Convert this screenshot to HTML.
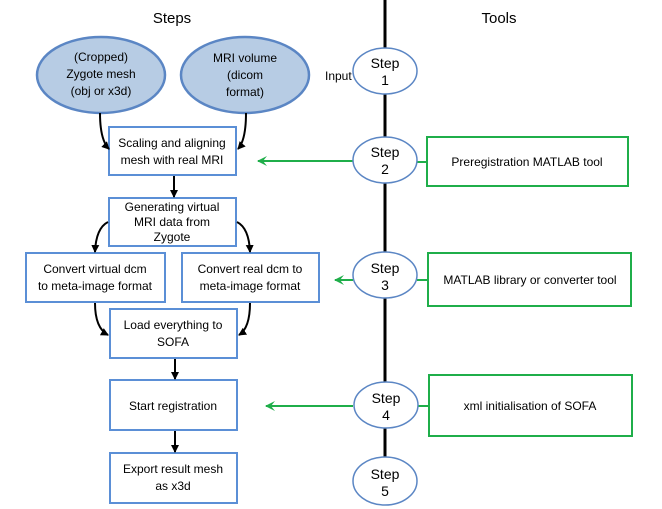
<!DOCTYPE html>
<html><head><style>body{margin:0;background:#fff}svg{display:block}text{font-family:"Liberation Sans",sans-serif;font-size:12px;fill:#000}</style></head>
<body>
<svg width="662" height="509" viewBox="0 0 662 509">
<defs>
<marker id="ab" markerWidth="8" markerHeight="8" refX="7" refY="4" orient="auto" markerUnits="userSpaceOnUse"><path d="M0,0 L8,4 L0,8 z" fill="#000"/></marker>
<marker id="ag" markerWidth="10" markerHeight="10" refX="9" refY="5" orient="auto" markerUnits="userSpaceOnUse"><path d="M0,0 L10,5 L0,10 L4,5 z" fill="#1fae4a"/></marker>
</defs>
<text x="172" y="23" text-anchor="middle" style="font-size:15px">Steps</text>
<text x="499" y="23" text-anchor="middle" style="font-size:15px">Tools</text>
<line x1="385" y1="0" x2="385" y2="460" stroke="#000" stroke-width="3"/>
<g fill="#b7cce4" stroke="#5b86c4" stroke-width="2.5">
<ellipse cx="101" cy="75" rx="64" ry="38"/>
<ellipse cx="245" cy="75" rx="64" ry="38"/>
</g>
<g text-anchor="middle">
<text x="101" y="61">(Cropped)</text><text x="101" y="78">Zygote mesh</text><text x="101" y="95">(obj or x3d)</text>
<text x="245" y="62">MRI volume</text><text x="245" y="79">(dicom</text><text x="245" y="96">format)</text>
</g>
<g fill="#fff" stroke="#5b8fd6" stroke-width="2">
<rect x="109" y="127" width="127" height="48"/>
<rect x="109" y="198" width="127" height="48"/>
<rect x="26" y="253" width="139" height="49"/>
<rect x="182" y="253" width="137" height="49"/>
<rect x="110" y="309" width="127" height="49"/>
<rect x="110" y="380" width="127" height="50"/>
<rect x="110" y="453" width="127" height="50"/>
</g>
<g text-anchor="middle">
<text x="172" y="147">Scaling and aligning</text><text x="172" y="164">mesh with real MRI</text>
<text x="172" y="211">Generating virtual</text><text x="172" y="226">MRI data from</text><text x="172" y="241">Zygote</text>
<text x="95" y="273">Convert virtual dcm</text><text x="95" y="290">to meta-image format</text>
<text x="250" y="273">Convert real dcm to</text><text x="250" y="290">meta-image format</text>
<text x="173" y="329">Load everything to</text><text x="173" y="346">SOFA</text>
<text x="173" y="410">Start registration</text>
<text x="173" y="473">Export result mesh</text><text x="173" y="490">as x3d</text>
</g>
<g stroke="#000" stroke-width="2" fill="none" marker-end="url(#ab)">
<path d="M100,113 Q100,140 109,149"/>
<path d="M246,113 Q246,140 238,149"/>
<line x1="174" y1="176" x2="174" y2="197"/>
<path d="M108,222 Q96,228 95,252"/>
<path d="M237,222 Q249,228 250,252"/>
<path d="M95,303 Q95,328 108,335"/>
<path d="M250,303 Q250,328 239,335"/>
<line x1="175" y1="359" x2="175" y2="379"/>
<line x1="175" y1="431" x2="175" y2="452"/>
</g>
<g stroke="#1fae4a" stroke-width="2" fill="none">
<rect x="427" y="137" width="201" height="49"/>
<rect x="428" y="253" width="203" height="53"/>
<rect x="429" y="375" width="203" height="61"/>
<line x1="417" y1="162" x2="427" y2="162"/>
<line x1="417" y1="280" x2="428" y2="280"/>
<line x1="417" y1="406" x2="429" y2="406"/>
<line x1="353" y1="161" x2="258" y2="161" marker-end="url(#ag)"/>
<line x1="353" y1="280" x2="335" y2="280" marker-end="url(#ag)"/>
<line x1="353" y1="406" x2="266" y2="406" marker-end="url(#ag)"/>
</g>
<g text-anchor="middle">
<text x="527" y="166">Preregistration MATLAB tool</text>
<text x="530" y="284">MATLAB library or converter tool</text>
<text x="530" y="410">xml initialisation of SOFA</text>
</g>
<g fill="#fff" stroke="#5b86c4" stroke-width="1.5">
<ellipse cx="385" cy="71" rx="32" ry="23"/>
<ellipse cx="385" cy="160" rx="32" ry="23"/>
<ellipse cx="385" cy="275" rx="32" ry="23"/>
<ellipse cx="386" cy="405" rx="32" ry="23"/>
<ellipse cx="385" cy="481" rx="32" ry="24"/>
</g>
<g text-anchor="middle">
<text x="385" y="68" style="font-size:14px">Step</text><text x="385" y="85" style="font-size:14px">1</text>
<text x="385" y="157" style="font-size:14px">Step</text><text x="385" y="174" style="font-size:14px">2</text>
<text x="385" y="273" style="font-size:14px">Step</text><text x="385" y="290" style="font-size:14px">3</text>
<text x="386" y="403" style="font-size:14px">Step</text><text x="386" y="420" style="font-size:14px">4</text>
<text x="385" y="479" style="font-size:14px">Step</text><text x="385" y="496" style="font-size:14px">5</text>
</g>
<text x="325" y="80">Input</text>
</svg>
</body></html>
